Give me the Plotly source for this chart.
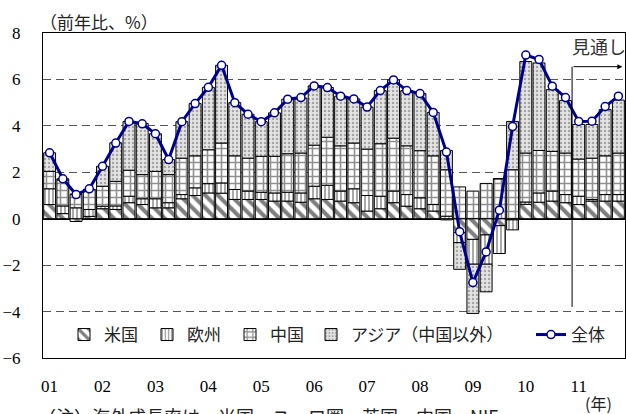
import plotly.graph_objects as go

# Quarters 2001Q1 .. 2011Q4
quarters = [f"{y:02d}Q{q}" for y in range(1, 12) for q in range(1, 5)]
year_labels = ["01", "02", "03", "04", "05", "06", "07", "08", "09", "10", "11"]

us = [0.61, 0.22, -0.12, 0.10, 0.43, 0.40, 0.69, 0.61, 0.47, 0.47, 0.86,
      1.00, 1.11, 1.10, 0.83, 0.83, 0.83, 0.76, 0.76, 0.71, 0.86, 0.83,
      0.76, 0.69, 0.33, 0.43, 0.69, 0.54, 0.43, 0.33, -0.05, -0.60, -0.89,
      -0.70, -0.30, -0.05, 0.62, 0.71, 0.76, 0.69, 0.61, 0.76, 0.76, 0.76]
eu = [0.68, 0.33, 0.47, 0.30, 0.11, 0.15, 0.28, 0.25, 0.39, 0.22, 0.18,
      0.33, 0.40, 0.44, 0.43, 0.36, 0.31, 0.35, 0.38, 0.40, 0.54, 0.61,
      0.43, 0.60, 0.67, 0.54, 0.50, 0.50, 0.47, 0.28, 0.11, -0.43, -1.07,
      -1.26, -1.20, -0.43, 0.10, 0.40, 0.43, 0.35, 0.36, 0.07, 0.28, 0.28]
cn = [0.75, 1.12, 0.58, 0.86, 0.86, 1.06, 1.12, 1.04, 1.18, 1.21, 1.57,
      1.38, 1.46, 1.72, 1.45, 1.42, 1.55, 1.58, 1.66, 1.72, 1.77, 2.07,
      1.95, 1.97, 2.00, 2.26, 2.28, 2.10, 2.03, 2.10, 2.00, 1.37, 1.19,
      1.52, 1.72, 2.11, 2.11, 1.83, 1.71, 1.79, 1.60, 1.78, 1.67, 1.79]
asia = [0.80, 0.05, 0.00, 0.00, 0.86, 1.66, 2.10, 2.20, 1.62, 0.65, 1.57,
        2.25, 2.69, 3.35, 2.29, 1.89, 1.49, 1.87, 2.35, 2.37, 2.55, 2.14,
        2.14, 1.90, 1.81, 2.29, 2.51, 2.38, 2.46, 1.87, 0.83, -1.15, -2.12,
        -1.19, 0.00, 2.08, 3.94, 3.77, 2.66, 2.26, 1.49, 1.45, 1.99, 2.28]
total = [2.84, 1.72, 1.04, 1.29, 2.26, 3.26, 4.19, 4.09, 3.66, 2.55, 4.18,
         4.96, 5.66, 6.61, 5.00, 4.50, 4.18, 4.56, 5.15, 5.22, 5.72, 5.65,
         5.28, 5.16, 4.81, 5.52, 5.98, 5.52, 5.39, 4.58, 2.87, -0.56, -2.75,
         -1.43, 0.37, 3.97, 7.05, 6.86, 5.71, 5.22, 4.19, 4.20, 4.83, 5.28]

x = list(range(len(quarters)))
tickvals = [i * 4 for i in range(len(year_labels))]

CJK = "Noto Sans CJK JP"
SERIF = "Liberation Serif"

fig = go.Figure()

def bar(name, vals, shape, fg, bg, size, sol, legend):
    fig.add_trace(go.Bar(
        x=x, y=vals, name=name, legend=legend,
        marker=dict(color=bg,
                    line=dict(color="black", width=1),
                    pattern=dict(shape=shape, fgcolor=fg, bgcolor=bg,
                                 size=size, solidity=sol, fillmode="overlay")),
    ))

bar("米国", us, "\\", "#000000", "#ffffff", 9, 0.45, "legend")
bar("欧州", eu, "|", "#555555", "#ffffff", 4, 0.5, "legend")
bar("中国", cn, "+", "#222222", "#ffffff", 7, 0.4, "legend")
bar("アジア（中国以外）", asia, ".", "#666666", "#e4e4e4", 4, 0.3, "legend3")

fig.add_trace(go.Scatter(
    x=x, y=total, name="全体", mode="lines+markers", legend="legend2",
    line=dict(color="#00008B", width=3),
    marker=dict(size=8, color="white", line=dict(color="#00008B", width=1.5)),
))

W, H = 626, 414
L, R, T, B = 43, 1, 33, 56
pw, ph = W - L - R, H - T - B

def xp(px):
    return (px - L) / pw

def yp(py):
    return (H - B - py) / ph

legend_font = dict(family=CJK, size=17, color="#222")
common = dict(orientation="h", xanchor="left", yanchor="middle", y=yp(335),
              bgcolor="rgba(0,0,0,0)", font=legend_font, itemwidth=30)
fig.update_layout(
    width=W, height=H,
    margin=dict(l=L, r=R, t=T, b=B),
    paper_bgcolor="white", plot_bgcolor="white",
    barmode="relative", bargap=0.1,
    showlegend=True,
    legend=dict(x=xp(64), traceorder="normal", entrywidth=38, **common),
    legend3=dict(x=xp(311), **common),
    legend2=dict(x=xp(531), **common),
    font=dict(family=CJK, color="black"),
)

fig.update_xaxes(
    range=[-0.5, len(x) - 0.5],
    tickvals=tickvals, ticktext=year_labels,
    tickfont=dict(family=SERIF, size=17, color="black"),
    ticks="", ticklabelstandoff=13,
    showline=True, linecolor="black", linewidth=1, mirror=True,
    showgrid=False, zeroline=False,
)
fig.update_yaxes(
    range=[-6, 8], dtick=2, tick0=0,
    tickfont=dict(family=SERIF, size=17, color="black"),
    ticks="", ticklabelstandoff=18,
    showline=True, linecolor="black", linewidth=1, mirror=True,
    showgrid=True, gridcolor="#555555", griddash="8px,5px", gridwidth=1,
    zeroline=True, zerolinecolor="black", zerolinewidth=1.5,
)

# forecast marker ("見通し")
fig.add_shape(type="line", x0=39.5, x1=39.5, y0=-3.8, y1=6.55,
              line=dict(color="black", width=1))
fig.add_annotation(x=43.3, y=6.55, ax=39.5, ay=6.55, axref="x", ayref="y",
                   xref="x", yref="y", text="", showarrow=True,
                   arrowhead=2, arrowsize=1, arrowwidth=1, arrowcolor="black")
fig.add_annotation(x=xp(570), y=yp(46), xref="paper", yref="paper",
                   text="見通し", showarrow=False, xanchor="left", yanchor="middle",
                   font=dict(family=CJK, size=18, color="#333"))

fig.add_annotation(x=xp(38), y=yp(21), xref="paper", yref="paper",
                   text="（前年比、%）", showarrow=False, xanchor="left", yanchor="middle",
                   font=dict(family=CJK, size=17, color="#222"))
fig.add_annotation(x=xp(598), y=yp(403), xref="paper", yref="paper",
                   text="(年)", showarrow=False, xanchor="center", yanchor="middle",
                   font=dict(family=CJK, size=16, color="#222"))
fig.add_annotation(x=xp(36), y=yp(401), xref="paper", yref="paper",
                   text="（注）海外成長率は、米国、ユーロ圏、英国、中国、NIEs、",
                   showarrow=False, xanchor="left", yanchor="top",
                   font=dict(family=CJK, size=18, color="#222"))

fig.write_html("out.html", config={"displayModeBar": False},
               post_script="document.body.style.margin='0';document.body.style.overflow='hidden';")
